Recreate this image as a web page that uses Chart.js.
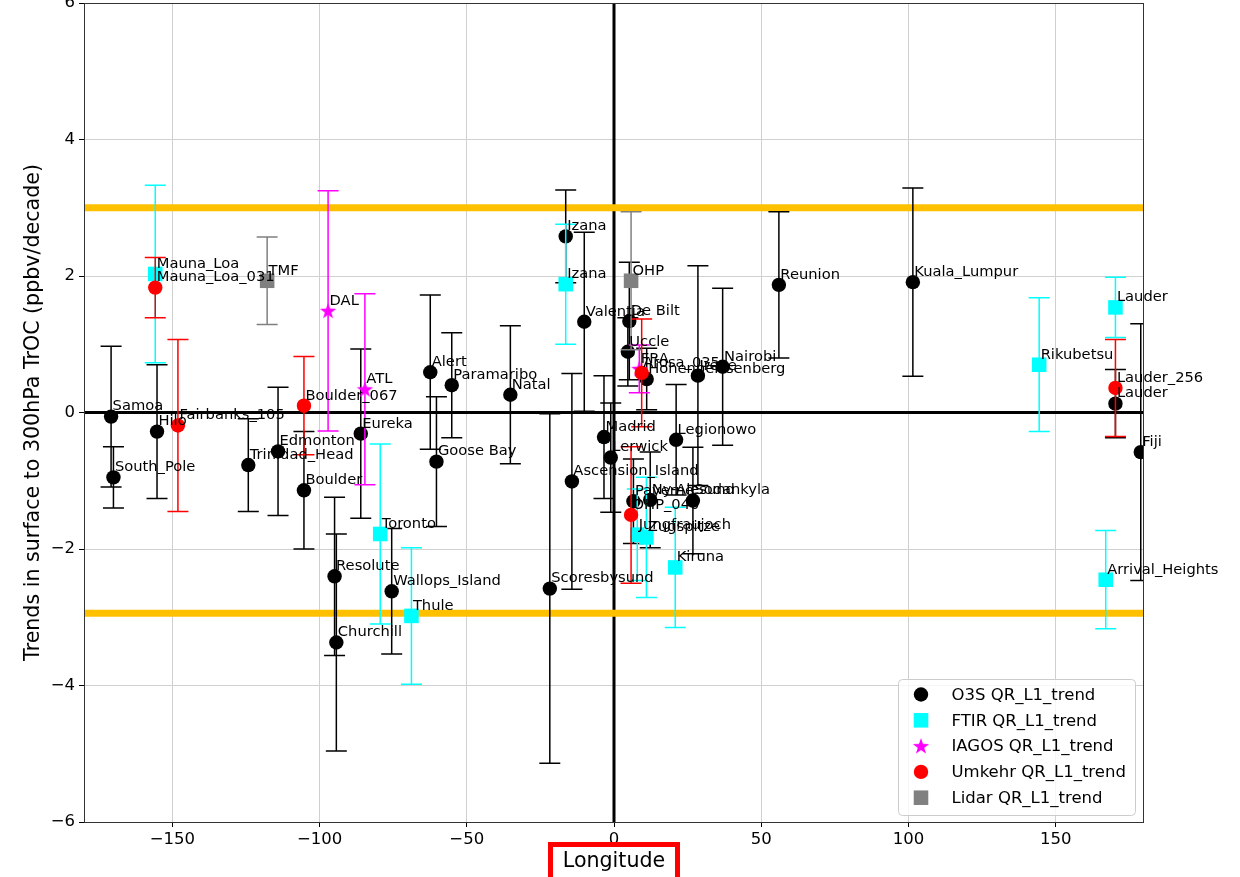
<!DOCTYPE html>
<html>
<head>
<meta charset="utf-8">
<title>TrOC trends by longitude</title>
<script src="https://cdn.jsdelivr.net/npm/chart.js@4.4.1/dist/chart.umd.min.js"></script>
<style>
  html, body { margin: 0; padding: 0; background: #ffffff; }
  #wrap { position: relative; width: 1240px; height: 877px; overflow: hidden; }
  #chart { position: absolute; left: 0; top: -40px; }
</style>
</head>
<body>
<div id="wrap"><canvas id="chart" width="1240" height="917"></canvas></div>
<script>
// ---- axes ----
const xTicks = [-150, -100, -50, 0, 50, 100, 150];
const yTicks = [-6, -4, -2, 0, 2, 4, 6];
const xRange = [-180, 180];
const yRange = [-6, 6];
const upperBand = 3.0;
const lowerBand = -2.94;

// ---- series labels ----
const seriesLabels = ['O3S QR_L1_trend', 'FTIR QR_L1_trend', 'IAGOS QR_L1_trend', 'Umkehr QR_L1_trend', 'Lidar QR_L1_trend'];

// ---- ozonesondes ----
const o3sNames = ['Samoa', 'South_Pole', 'Hilo', 'Trinidad_Head', 'Edmonton', 'Boulder', 'Eureka', 'Resolute', 'Churchill',
  'Wallops_Island', 'Alert', 'Goose Bay', 'Paramaribo', 'Natal', 'Izana', 'Valentia', 'Scoresbysund', 'Ascension_Island',
  'Madrid', 'Lerwick', 'De Bilt', 'Uccle', 'Hohenpeissenberg', 'Payerne', 'Ny-Alesund', 'Sodankyla', 'Legionowo', 'Irene',
  'Nairobi', 'Reunion', 'Kuala_Lumpur', 'Lauder', 'Fiji'];
const o3sLon = [-170.8, -170.0, -155.2, -124.2, -114.1, -105.3, -86.0, -94.9, -94.3,
  -75.5, -62.4, -60.3, -55.1, -35.2, -16.4, -10.1, -21.8, -14.3,
  -3.4, -1.1, 5.2, 4.7, 11.1, 6.6, 12.3, 26.8, 21.1, 28.5,
  36.9, 56.0, 101.5, 170.3, 178.9];
const o3sTrend = [-0.06, -0.95, -0.28, -0.77, -0.57, -1.14, -0.31, -2.40, -3.37,
  -2.62, 0.59, -0.72, 0.40, 0.26, 2.58, 1.33, -2.58, -1.01,
  -0.36, -0.66, 1.34, 0.89, 0.49, -1.30, -1.28, -1.29, -0.40, 0.54,
  0.67, 1.87, 1.91, 0.13, -0.58];
const o3sErr = [1.03, 0.45, 0.98, 0.68, 0.94, 0.86, 1.24, 1.16, 1.59,
  0.92, 1.13, 0.95, 0.77, 1.01, 0.68, 1.31, 2.56, 1.58,
  0.90, 0.80, 0.86, 0.50, 0.45, 0.62, 0.70, 0.78, 0.81, 1.61,
  1.15, 1.07, 1.38, 0.50, 1.88];

// ---- FTIR ----
const ftirNames = ['Mauna_Loa', 'Izana', 'Toronto', 'Thule', 'Jungfraujoch', 'Zugspitze', 'Kiruna', 'Rikubetsu', 'Lauder', 'Arrival_Heights'];
const ftirLon = [-155.8, -16.4, -79.4, -68.8, 7.9, 11.0, 20.8, 144.4, 170.3, 167.0];
const ftirTrend = [2.03, 1.88, -1.78, -2.98, -1.79, -1.83, -2.27, 0.70, 1.54, -2.45];
const ftirErr = [1.30, 0.88, 1.32, 1.00, 0.67, 0.88, 0.88, 0.98, 0.44, 0.72];

// ---- IAGOS ----
const iagosNames = ['DAL', 'ATL', 'FRA'];
const iagosLon = [-97.1, -84.6, 8.6];
const iagosTrend = [1.49, 0.34, 0.64];
const iagosErr = [1.76, 1.40, 0.35];

// ---- Umkehr ----
const umkehrNames = ['Mauna_Loa_031', 'Fairbanks_105', 'Boulder_067', 'Arosa_035', 'OHP_040', 'Lauder_256'];
const umkehrLon = [-155.8, -148.1, -105.3, 9.4, 5.8, 170.3];
const umkehrTrend = [1.83, -0.19, 0.10, 0.58, -1.50, 0.36];
const umkehrErr = [0.44, 1.26, 0.72, 0.79, 1.00, 0.71];

// ---- Lidar ----
const lidarNames = ['TMF', 'OHP'];
const lidarLon = [-117.8, 5.8];
const lidarTrend = [1.93, 1.93];
const lidarErr = [0.64, 1.01];

// ---- styling ----
const FONT = 'DejaVu Sans';
const seriesColors = ['#000000', '#00ffff', '#ff00ff', '#ff0000', '#808080'];

function minusSign(v) { return String(v).replace('-', '\u2212'); }

// filled five-point star used as the IAGOS marker
function makeStar(rOuter, rInner, color) {
  const s = Math.ceil(rOuter * 2 + 2);
  const c = document.createElement('canvas');
  c.width = s; c.height = s;
  const g = c.getContext('2d');
  g.fillStyle = color;
  g.beginPath();
  for (let i = 0; i < 10; i++) {
    const r = i % 2 ? rInner : rOuter;
    const a = -Math.PI / 2 + i * Math.PI / 5;
    const px = s / 2 + r * Math.cos(a), py = s / 2 + 0.6 + r * Math.sin(a);
    if (i === 0) g.moveTo(px, py); else g.lineTo(px, py);
  }
  g.closePath();
  g.fill();
  return c;
}
const starMarker = makeStar(8.6, 3.4, seriesColors[2]);

const series = [
  { label: seriesLabels[0], names: o3sNames, lon: o3sLon, val: o3sTrend, err: o3sErr, color: seriesColors[0], style: 'circle', radius: 7.2 },
  { label: seriesLabels[1], names: ftirNames, lon: ftirLon, val: ftirTrend, err: ftirErr, color: seriesColors[1], style: 'rect', radius: 10.3 },
  { label: seriesLabels[2], names: iagosNames, lon: iagosLon, val: iagosTrend, err: iagosErr, color: seriesColors[2], style: starMarker, radius: 8 },
  { label: seriesLabels[3], names: umkehrNames, lon: umkehrLon, val: umkehrTrend, err: umkehrErr, color: seriesColors[3], style: 'circle', radius: 7.2 },
  { label: seriesLabels[4], names: lidarNames, lon: lidarLon, val: lidarTrend, err: lidarErr, color: seriesColors[4], style: 'rect', radius: 10.3 }
];

const scatterSets = series.map((s, k) => ({
  type: 'scatter',
  label: s.label,
  data: s.lon.map((x, i) => ({ x: x, y: s.val[i] })),
  errors: s.err,
  names: s.names,
  pointStyle: s.style,
  pointRadius: s.radius,
  pointHoverRadius: s.radius,
  backgroundColor: s.color,
  borderColor: s.color,
  borderWidth: 0,
  pointBorderWidth: 0,
  order: 5 - k,
  clip: 0
}));

function hLine(yv, color, width, order) {
  return { type: 'line', data: [{ x: xRange[0], y: yv }, { x: xRange[1], y: yv }], borderColor: color,
    borderWidth: width, pointRadius: 0, pointHoverRadius: 0, fill: false, order: order, borderCapStyle: 'butt' };
}
function vLine(xv, color, width, order) {
  return { type: 'line', data: [{ x: xv, y: yRange[0] }, { x: xv, y: yRange[1] }], borderColor: color,
    borderWidth: width, pointRadius: 0, pointHoverRadius: 0, fill: false, order: order, borderCapStyle: 'butt' };
}

const refLines = [
  hLine(0, '#000000', 3, 20),
  vLine(0, '#000000', 3, 20),
  hLine(upperBand, '#ffc000', 7, 15),
  hLine(lowerBand, '#ffc000', 7, 15)
];

// vertical error bars with caps, drawn just before each series' markers
const errorBars = {
  id: 'errorBars',
  beforeDatasetDraw(chart, args) {
    const ds = chart.data.datasets[args.index];
    if (!ds.errors) return;
    const { ctx, chartArea: a, scales: { x, y } } = chart;
    ctx.save();
    ctx.beginPath();
    ctx.rect(a.left, a.top, a.right - a.left, a.bottom - a.top);
    ctx.clip();
    ctx.strokeStyle = ds.borderColor;
    ctx.lineWidth = 1.5;
    const cap = 10.5;
    ds.data.forEach((p, i) => {
      const e = ds.errors[i];
      const px = x.getPixelForValue(p.x);
      const top = y.getPixelForValue(p.y + e);
      const bot = y.getPixelForValue(p.y - e);
      ctx.beginPath();
      ctx.moveTo(px, top); ctx.lineTo(px, bot);
      ctx.moveTo(px - cap, top); ctx.lineTo(px + cap, top);
      ctx.moveTo(px - cap, bot); ctx.lineTo(px + cap, bot);
      ctx.stroke();
    });
    ctx.restore();
  }
};

// station names, frame and series key
const annotations = {
  id: 'annotations',
  afterDatasetsDraw(chart) {
    const { ctx, chartArea: a, scales: { x, y } } = chart;
    ctx.save();
    // frame
    ctx.strokeStyle = '#333333';
    ctx.lineWidth = 1;
    ctx.strokeRect(a.left + 0.5, a.top + 0.5, a.right - a.left - 1, a.bottom - a.top);

    // station names
    ctx.fillStyle = '#000000';
    ctx.font = '14.7px "' + FONT + '"';
    ctx.textAlign = 'left';
    ctx.textBaseline = 'alphabetic';
    chart.data.datasets.forEach(ds => {
      if (!ds.names) return;
      ds.data.forEach((p, i) => {
        ctx.fillText(ds.names[i], x.getPixelForValue(p.x + 0.5), y.getPixelForValue(p.y + 0.09));
      });
    });

    // key box
    const bw = 237, bh = 136;
    const bx = a.right - 9 - bw, by = a.bottom - 7 - bh;
    ctx.beginPath();
    if (ctx.roundRect) ctx.roundRect(bx + 0.5, by + 0.5, bw, bh, 4); else ctx.rect(bx + 0.5, by + 0.5, bw, bh);
    ctx.fillStyle = 'rgba(255,255,255,0.8)';
    ctx.fill();
    ctx.strokeStyle = '#cccccc';
    ctx.lineWidth = 1;
    ctx.stroke();

    ctx.font = '16.5px "' + FONT + '"';
    ctx.textBaseline = 'middle';
    series.forEach((s, k) => {
      const cy = by + 15.5 + k * 25.8;
      const mx = bx + 23;
      ctx.fillStyle = s.color;
      if (s.style === 'circle') {
        ctx.beginPath(); ctx.arc(mx, cy, s.radius, 0, Math.PI * 2); ctx.fill();
      } else if (s.style === 'rect') {
        const h = s.radius * Math.SQRT1_2;
        ctx.fillRect(mx - h, cy - h, 2 * h, 2 * h);
      } else {
        ctx.drawImage(s.style, mx - s.style.width / 2, cy - s.style.height / 2);
      }
      ctx.fillStyle = '#000000';
      ctx.fillText(s.label, bx + 53.5, cy + 1);
    });
    ctx.restore();
  },
  afterDraw(chart) {
    // red outline around the x axis title
    const { ctx, chartArea: a } = chart;
    const cx = (a.left + a.right) / 2;
    ctx.save();
    ctx.strokeStyle = '#ff0000';
    ctx.lineWidth = 5;
    ctx.strokeRect(cx - 63.5, a.bottom + 22.5, 127, 60);
    ctx.restore();
  }
};

new Chart(document.getElementById('chart'), {
  type: 'scatter',
  data: { datasets: refLines.concat(scatterSets) },
  options: {
    responsive: false,
    animation: false,
    devicePixelRatio: 1,
    events: [],
    layout: { padding: { left: 0, right: 96, top: 0, bottom: 0 } },
    plugins: {
      legend: { display: false },
      tooltip: { enabled: false },
      title: {
        display: true,
        text: 'TrOC trends (ppbv/decade)',
        fullSize: false,
        color: '#000000',
        font: { family: FONT, size: 20, weight: 'normal', lineHeight: 1.2 },
        padding: { top: 18, bottom: 1 }
      }
    },
    scales: {
      x: {
        type: 'linear',
        min: xRange[0],
        max: xRange[1],
        afterBuildTicks: s => { s.ticks = xTicks.map(v => ({ value: v })); },
        afterFit: s => { s.height = 55; },
        border: { display: false },
        grid: { color: '#d0d0d0', lineWidth: 1, tickColor: '#000000', tickLength: 5, tickWidth: 1 },
        ticks: { color: '#000000', font: { family: FONT, size: 16.5 }, padding: 3, maxRotation: 0, autoSkip: false,
          callback: v => minusSign(v) },
        title: { display: true, text: 'Longitude', color: '#000000',
          font: { family: FONT, size: 20.6, lineHeight: 1.2 }, padding: { top: 0, bottom: 3 } }
      },
      y: {
        type: 'linear',
        min: yRange[0],
        max: yRange[1],
        afterBuildTicks: s => { s.ticks = yTicks.map(v => ({ value: v })); },
        afterFit: s => { s.width = 84; },
        border: { display: false },
        grid: { color: '#d0d0d0', lineWidth: 1, tickColor: '#000000', tickLength: 5, tickWidth: 1 },
        ticks: { color: '#000000', font: { family: FONT, size: 16.5 }, padding: 4, autoSkip: false,
          callback: v => minusSign(v) },
        title: { display: true, text: 'Trends in surface to 300hPa TrOC (ppbv/decade)', color: '#000000',
          font: { family: FONT, size: 20.6, lineHeight: 1.2 }, padding: { top: 21, bottom: 0 } }
      }
    }
  },
  plugins: [errorBars, annotations]
});
</script>
</body>
</html>
